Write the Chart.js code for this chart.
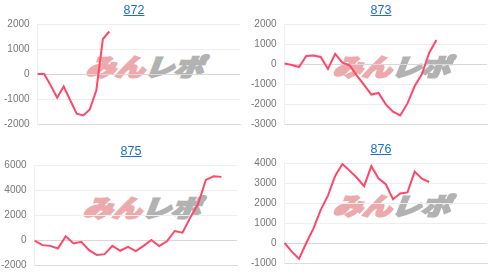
<!DOCTYPE html>
<html>
<head>
<meta charset="utf-8">
<script src="https://cdn.jsdelivr.net/npm/chart.js@4.4.1/dist/chart.umd.min.js"></script>
<style>
    html, body { margin: 0; padding: 0; background: #fff; }
    body { width: 500px; height: 276px; position: relative; overflow: hidden; font-family: Arial, "Liberation Sans", sans-serif; }
    .panel { position: absolute; width: 250px; height: 138px; }
    .panel canvas { position: absolute; left: 0; top: 0; }
    .titulo { position: absolute; left: 0; top: 3px; width: 262px; text-align: center; font-size: 12.5px; line-height: 14px; }
    .titulo a { color: #1b6fd1; text-decoration: underline; }
    .marca {
        position: absolute; left: 145px; top: 66px; white-space: nowrap;
        font: 900 24px "Noto Sans CJK JP", sans-serif; letter-spacing: 0; line-height: 24px;
        transform: translate(-50%, -50%) scaleX(1.22) skewX(-18deg);
    }
    .marca .rojo { color: #ecaaac; -webkit-text-stroke: 2px #ecaaac; }
    .marca .gris { color: #b2b2b2; -webkit-text-stroke: 2px #b2b2b2; }
</style>
</head>
<body>
<script>
// Datos de cada máquina (saldo acumulado por juego)
const maquinas = ['872', '873', '875', '876'];
const saldo872 = [0, 0, -450, -950, -500, -1050, -1590, -1660, -1420, -650, 1400, 1700];
const saldo873 = [20, -50, -150, 400, 430, 350, -250, 510, 70, -70, -580, -1040, -1530, -1450, -2020, -2380, -2570, -1970, -1100, -500, 550, 1200];
const saldo875 = [-50, -410, -470, -680, 300, -280, -150, -810, -1200, -1130, -470, -860, -550, -890, -470, 0, -490, -100, 720, 590, 1800, 2880, 4810, 5100, 5050];
const saldo876 = [0, -430, -790, 0, 730, 1660, 2370, 3350, 3950, 3620, 3260, 2840, 3840, 3220, 2940, 2190, 2480, 2530, 3570, 3220, 3050];

// Cantidad de casilleros del eje X de cada gráfico
const casilleros = [32, 29, 27, 29];

// Escalas Y: [min, max, paso]
const escalas = [[-2000, 2000, 1000], [-3000, 2000, 1000], [-2000, 6000, 2000], [-1000, 4000, 1000]];

class PanelGrafico {
    constructor(nombre, datos, slots, escala, posicion) {
        this.nombre = nombre;
        this.datos = datos;
        this.slots = slots;
        this.escala = escala;
        this.posicion = posicion;
    }

    #crearContenedor() {
        const div = document.createElement('div');
        div.className = 'panel';
        div.style.left = this.posicion[0] + 'px';
        div.style.top = this.posicion[1] + 'px';

        // Marca de agua, detrás del canvas
        const marca = document.createElement('div');
        marca.className = 'marca';
        marca.innerHTML = '<span class="rojo">みん</span><span class="gris">レポ</span>';
        div.appendChild(marca);

        const canvas = document.createElement('canvas');
        canvas.width = 250;
        canvas.height = 138;
        div.appendChild(canvas);

        const titulo = document.createElement('div');
        titulo.className = 'titulo';
        titulo.innerHTML = `<a href="#">${this.nombre}</a>`;
        div.appendChild(titulo);

        document.body.appendChild(div);
        return canvas;
    }

    #etiquetas() {
        return Array.from({ length: this.slots }, (_, i) => String(i + 1));
    }

    dibujar() {
        const canvas = this.#crearContenedor();
        const [min, max, paso] = this.escala;

        return new Chart(canvas, {
            type: 'line',
            data: {
                labels: this.#etiquetas(),
                datasets: [{
                    data: this.datos,
                    borderColor: 'rgb(255, 72, 104)',
                    borderWidth: 2,
                    pointRadius: 0,
                    tension: 0,
                    fill: false
                }]
            },
            options: {
                responsive: false,
                animation: false,
                // el eje Y reserva 8px de más; se compensa con el padding izquierdo
                layout: { padding: { left: -7, right: 13, top: 24, bottom: 11 } },
                plugins: { legend: { display: false }, tooltip: { enabled: false } },
                scales: {
                    x: {
                        ticks: { display: false },
                        grid: { display: false, drawTicks: false },
                        border: { color: '#dcdcdc' }
                    },
                    y: {
                        min: min,
                        max: max,
                        ticks: {
                            stepSize: paso,
                            padding: 8,
                            color: '#777',
                            font: { size: 10, family: 'Arial, "Liberation Sans", sans-serif' },
                            callback: valor => String(valor)
                        },
                        grid: {
                            drawTicks: false,
                            color: ctx => ctx.tick && ctx.tick.value === 0 ? '#d8d8d8' : '#eeeeee'
                        },
                        border: { color: '#eeeeee' }
                    }
                }
            }
        });
    }
}

const posiciones = [[3, 0], [250, 0], [0, 141], [250, 139]];
const series = [saldo872, saldo873, saldo875, saldo876];

maquinas.forEach((nombre, i) => {
    new PanelGrafico(nombre, series[i], casilleros[i], escalas[i], posiciones[i]).dibujar();
});
</script>
</body>
</html>
